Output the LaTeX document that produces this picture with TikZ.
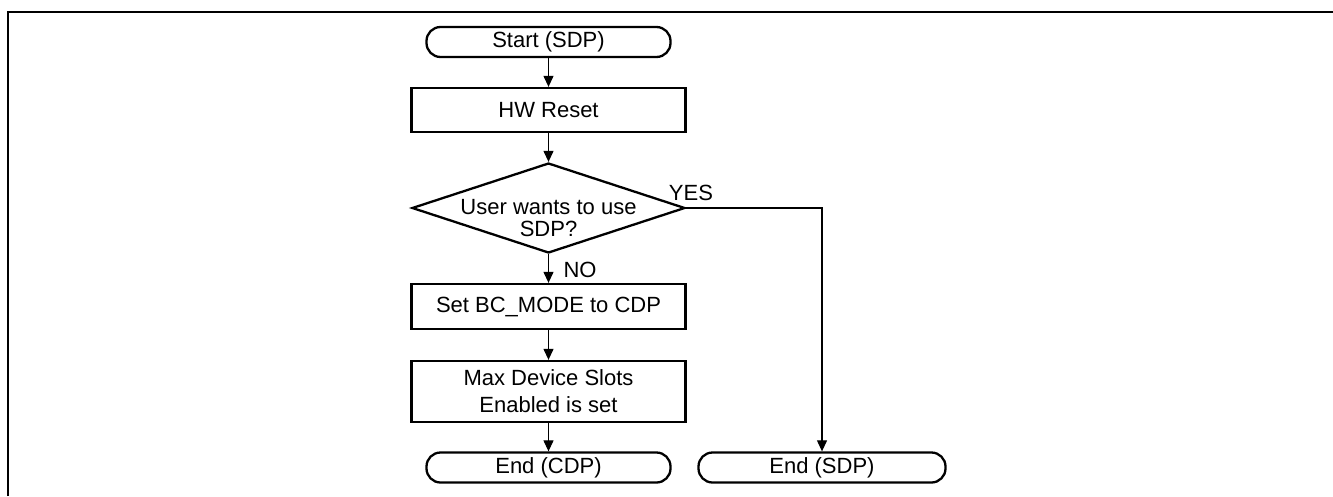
\documentclass[tikz,border=0pt]{standalone}
\usepackage{fontspec}
\setmainfont{Liberation Sans}
\usetikzlibrary{shapes.geometric,arrows.meta}
\begin{document}
\begin{tikzpicture}[x=1pt,y=-1pt,
 font=\fontsize{22}{22}\selectfont,
 term/.style={draw,line width=2.3pt,rounded corners=14pt,minimum width=244pt,minimum height=30pt,inner sep=0pt},
 proc/.style={draw,line width=2.3pt,minimum width=274pt,inner sep=0pt,align=center},
 decision/.style={draw,diamond,line width=2.3pt,minimum width=273pt,minimum height=90pt,inner sep=0pt},
 conn/.style={line width=1.1pt,-{Triangle[length=11pt,width=10pt]}},
 lbl/.style={inner sep=0pt}]
\useasboundingbox (0,0) rectangle (1333,496);
\draw[line width=2pt] (8,496) -- (8,12) -- (1333,12);
\node[term] (start) at (548.5,42) {Start (SDP)};
\node[proc,minimum height=44pt] (hw) at (548.5,110) {HW Reset};
\node[decision] (q) at (548.5,208) {};
\node[lbl,align=center] (qt) at (548.5,218) {User wants to use\\SDP?};
\node[proc,minimum height=45pt] (bc) at (548.5,306.5) {Set BC\_MODE to CDP};
\node[proc,minimum height=61pt,font=\fontsize{22}{27}\selectfont] (max) at (548.5,391.5) {Max Device Slots\\Enabled is set};
\node[term] (endc) at (548.5,467.5) {End (CDP)};
\node[term,minimum width=247pt] (ends) at (822,467.5) {End (SDP)};
\coordinate (yc) at (822,208);
\node[lbl] (yes) at (691,193) {YES};
\node[lbl] (no) at (580,270) {NO};
\draw[conn] (start) -- (hw);
\draw[conn] (hw) -- (q);
\draw[conn] (q) -- (bc);
\draw[conn] (bc) -- (max);
\draw[conn] (max) -- (endc);
\draw[conn] (q.east) -- (yc) -- (ends.north);
\end{tikzpicture}
\end{document}
